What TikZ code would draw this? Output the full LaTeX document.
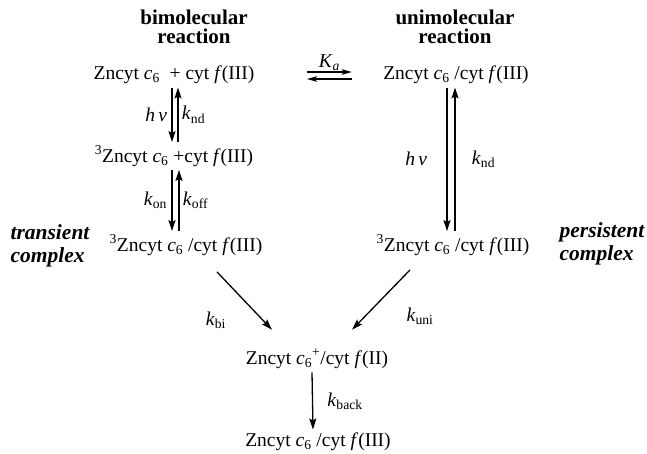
\documentclass[tikz,border=0pt]{standalone}
\usepackage{fontspec}
\setmainfont{Liberation Serif}
\usetikzlibrary{arrows.meta}
\usetikzlibrary{positioning}

\newcommand{\Zn}{Zncyt \textit{c}\textsubscript{6}}
\newcommand{\cytf}[1]{cyt \textit{f}(#1)}
\newcommand{\kk}[1]{\textit{k}\textsubscript{#1}}
\newcommand{\hnu}{\textit{h}\,\textit{ν}}

\begin{document}
\begin{tikzpicture}[x=1pt,y=-1pt,
    every node/.style={font=\fontsize{19.5}{21}\selectfont},
    arr/.style={line width=1.3pt,-{Stealth[length=11pt,width=7pt,inset=2pt]}},
    eqarr/.style={line width=1.2pt,-{Stealth[length=10pt,width=5.5pt,inset=2pt]}},
    head/.style={font=\fontsize{21}{19}\selectfont\bfseries,align=center},
    side/.style={font=\fontsize{21.5}{23}\selectfont\bfseries\itshape,align=left}]
    \useasboundingbox (0,0) rectangle (647,453);

    % headings
    \node[head] (bim) at (194,27) {bimolecular\\reaction};
    \node[head] (unim) at (455,27) {unimolecular\\reaction};

    % species
    \node (r1L) at (174,75) {\Zn\ \ + \cytf{III}};
    \node (r1R) at (456,75) {\Zn\ /\cytf{III}};
    \node (r2L) at (174,156) {\textsuperscript{3}\Zn\ +\cytf{III}};
    \node (r3L) at (186,245) {\textsuperscript{3}\Zn\ /\cytf{III}};
    \node (r3R) at (453,245) {\textsuperscript{3}\Zn\ /\cytf{III}};
    \node (r4) at (317,359) {Zncyt \textit{c}\textsubscript{6}\textsuperscript{+}/\cytf{II}};
    \node (r5) at (318,442) {\Zn\ /\cytf{III}};

    \node[side] (trans) at (50,246) {transient\\complex};
    \node[side] (pers) at (602,244) {persistent\\complex};

    % equilibrium
    \draw[eqarr] ([shift={(49,-3)}]r1L.east) -- ([shift={(-28,-3)}]r1R.west)
        node[midway,above=-3pt] {\textit{K}\textsubscript{\textit{a}}};
    \draw[eqarr] ([shift={(-28,4)}]r1R.west) -- ([shift={(49,4)}]r1L.east);

    % bimolecular side
    \draw[arr] ([xshift=-2pt]r1L.south) -- ([xshift=-2pt]r2L.north)
        node[midway,left=1pt] {\hnu};
    \draw[arr] ([xshift=4pt]r2L.north) -- ([xshift=4pt]r1L.south)
        node[midway,right=0pt] {\kk{nd}};
    \draw[arr] ([xshift=-2pt]r2L.south) -- ([xshift=-2pt]r2L.south |- r3L.north)
        node[midway,left=1pt] {\kk{on}};
    \draw[arr] ([xshift=5pt]r2L.south |- r3L.north) -- ([xshift=5pt]r2L.south)
        node[midway,right=0pt] {\kk{off}};

    % unimolecular side
    \draw[arr] ([xshift=-9pt]r1R.south) -- ([xshift=-9pt]r1R.south |- r3R.north)
        node[midway,left=16pt] {\hnu};
    \draw[arr] ([xshift=-1pt]r1R.south |- r3R.north) -- ([xshift=-1pt]r1R.south)
        node[midway,right=13pt] {\kk{nd}};

    % electron transfer
    \draw[arr] ([shift={(31,13)}]r3L.south) -- ([shift={(-45,-16)}]r4.north);
    \draw[arr] ([shift={(-43,11)}]r3R.south) -- ([shift={(35,-16)}]r4.north);
    \node (kbi) at (216,320) {\kk{bi}};
    \node (kuni) at (420,316) {\kk{uni}};

    \draw[arr] ([xshift=-5pt]r4.south) -- ([xshift=-5pt]r5.north)
        node[midway,right=11pt] {\kk{back}};
\end{tikzpicture}
\end{document}
